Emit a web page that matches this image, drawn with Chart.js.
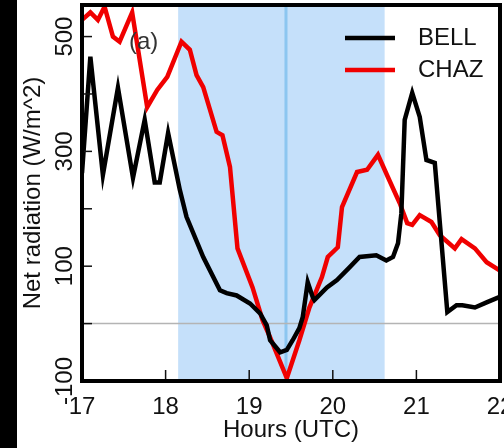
<!DOCTYPE html>
<html>
<head>
<meta charset="utf-8">
<script src="https://cdn.jsdelivr.net/npm/chart.js@4.4.1/dist/chart.umd.min.js"></script>
<style>
    html, body { margin: 0; padding: 0; }
    body {
        width: 504px; height: 448px; overflow: hidden;
        background: linear-gradient(to right, #000 17px, #fff 17px);
    }
    #wrap { position: relative; width: 504px; height: 448px; }
</style>
</head>
<body>
<div id="wrap"><canvas id="myChart" width="504" height="448"></canvas></div>
<script>
// values
const bellHours = [17.00, 17.10, 17.25, 17.43, 17.61, 17.75, 17.87, 17.93, 18.03, 18.17, 18.25, 18.45, 18.65, 18.73, 18.85,
    19.01, 19.13, 19.21, 19.25, 19.37, 19.45, 19.52, 19.60, 19.64, 19.70, 19.76, 19.78, 19.93, 20.05, 20.20, 20.32,
    20.52, 20.64, 20.72, 20.78, 20.82, 20.86, 20.95, 21.04, 21.12, 21.22, 21.37, 21.48, 21.55, 21.70, 21.84, 21.99];
const bellValues = [262, 465, 259, 411, 254, 355, 246, 246, 332, 233, 186, 116, 58, 53, 49,
    35, 18, -3, -29, -50, -46, -29, -8, 11, 72, 46, 41, 63, 76, 98, 116,
    119, 110, 116, 140, 192, 355, 402, 360, 285, 280, 20, 32, 32, 28, 37, 46];

const chazHours = [17.00, 17.10, 17.19, 17.27, 17.37, 17.45, 17.60, 17.78, 17.90, 18.02, 18.19, 18.29, 18.37, 18.45,
    18.61, 18.68, 18.77, 18.86, 19.04, 19.16, 19.25, 19.45, 19.60, 19.72, 19.87, 19.94, 20.06, 20.11, 20.29,
    20.41, 20.54, 20.66, 20.80, 20.89, 20.95, 21.04, 21.18, 21.28, 21.46, 21.54, 21.70, 21.84, 21.99];
const chazValues = [529, 542, 529, 552, 500, 491, 542, 377, 407, 430, 491, 477, 433, 412,
    334, 328, 273, 131, 63, 6, -24, -95, -29, 28, 81, 116, 133, 203, 264,
    268, 294, 255, 210, 175, 172, 189, 177, 154, 131, 147, 131, 107, 93];

const yLabelled = [500, 300, 100, -100];
const shadeStart = 18.15;
const shadeEnd = 20.62;
const markerHour = 19.44;

const FONT = "'Liberation Sans', Arial, sans-serif";

const toPoints = (xs, ys) => xs.map((x, i) => ({x: x, y: ys[i]}));

// shading, zero line, inward ticks, frame, legend and panel letter
const decor = {
    id: 'decor',
    beforeDatasetsDraw(chart) {
        const {ctx, chartArea: a, scales: {x, y}} = chart;
        ctx.save();
        ctx.fillStyle = '#c5e0fa';
        ctx.fillRect(x.getPixelForValue(shadeStart), a.top, x.getPixelForValue(shadeEnd) - x.getPixelForValue(shadeStart), a.bottom - a.top);
        ctx.strokeStyle = '#8cc6f0';
        ctx.lineWidth = 3;
        const mx = x.getPixelForValue(markerHour);
        ctx.beginPath(); ctx.moveTo(mx, a.top); ctx.lineTo(mx, a.bottom); ctx.stroke();
        ctx.strokeStyle = '#b4b4b4';
        ctx.lineWidth = 1.5;
        const zy = y.getPixelForValue(0);
        ctx.beginPath(); ctx.moveTo(a.left, zy); ctx.lineTo(a.right, zy); ctx.stroke();
        ctx.restore();
    },
    afterDraw(chart) {
        const {ctx, chartArea: a, scales: {x, y}} = chart;
        ctx.save();
        ctx.strokeStyle = '#111';
        ctx.lineWidth = 1.5;
        y.ticks.forEach(t => {
            const py = y.getPixelForValue(t.value);
            ctx.beginPath(); ctx.moveTo(a.left, py); ctx.lineTo(a.left + 10, py); ctx.stroke();
        });
        x.ticks.forEach(t => {
            const px = x.getPixelForValue(t.value);
            ctx.beginPath(); ctx.moveTo(px, a.bottom); ctx.lineTo(px, a.bottom - 11); ctx.stroke();
        });
        ctx.strokeStyle = '#000';
        ctx.lineWidth = 4;
        ctx.strokeRect(a.left, a.top, a.right - a.left, a.bottom - a.top);

        // legend
        ctx.font = '24px ' + FONT;
        ctx.textBaseline = 'middle';
        ctx.textAlign = 'left';
        chart.data.datasets.forEach((ds, i) => {
            const ly = 38 + i * 32;
            ctx.strokeStyle = ds.borderColor;
            ctx.lineWidth = 4.5;
            ctx.beginPath(); ctx.moveTo(345, ly); ctx.lineTo(395, ly); ctx.stroke();
            ctx.fillStyle = '#111';
            ctx.fillText(ds.label, 418, ly);
        });
        ctx.fillStyle = '#333';
        ctx.fillText('(a)', 129, 42);
        ctx.restore();
    }
};

const myChart = new Chart(document.getElementById('myChart'), {
    type: 'line',
    data: {
        datasets: [{
            label: 'BELL',
            data: toPoints(bellHours, bellValues),
            borderColor: '#000000',
            borderWidth: 4.5,
            pointRadius: 0,
            tension: 0,
        }, {
            label: 'CHAZ',
            data: toPoints(chazHours, chazValues),
            borderColor: '#f00000',
            borderWidth: 4.5,
            pointRadius: 0,
            tension: 0,
        }]
    },
    options: {
        responsive: false,
        animation: false,
        layout: {padding: {top: 5, right: 4, left: 0, bottom: 0}},
        plugins: {legend: {display: false}, tooltip: {enabled: false}},
        scales: {
            x: {
                type: 'linear',
                min: 17,
                max: 22,
                grid: {display: false},
                border: {display: false},
                ticks: {
                    stepSize: 1,
                    padding: 4,
                    color: '#111',
                    font: {family: FONT, size: 24},
                    maxRotation: 0,
                    autoSkip: false,
                },
                title: {
                    display: true,
                    text: 'Hours (UTC)',
                    color: '#111',
                    font: {family: FONT, size: 24},
                    padding: {top: 0, bottom: 3},
                },
                afterFit: s => { s.height = 67; s.paddingLeft = 0; s.paddingRight = 0; },
            },
            y: {
                min: -100,
                max: 555,
                grid: {display: false},
                border: {display: false},
                ticks: {
                    stepSize: 100,
                    includeBounds: false,
                    padding: -15,
                    minRotation: 90,
                    maxRotation: 90,
                    crossAlign: 'center',
                    color: '#111',
                    font: {family: FONT, size: 24},
                    autoSkip: false,
                    callback: v => yLabelled.includes(v) ? String(v) : '',
                },
                title: {
                    display: true,
                    text: 'Net radiation (W/m^2)',
                    color: '#111',
                    font: {family: FONT, size: 24},
                    padding: {top: 19, bottom: 0},
                },
                afterFit: s => { s.width = 82; s.paddingTop = 0; s.paddingBottom = 0; },
            }
        }
    },
    plugins: [decor]
});
</script>
</body>
</html>
